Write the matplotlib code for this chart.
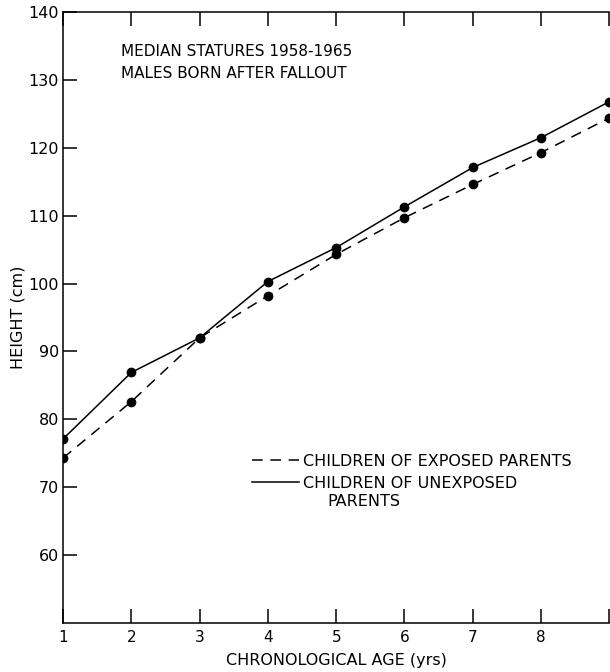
import matplotlib
matplotlib.use("Agg")
import matplotlib.pyplot as plt
from matplotlib.lines import Line2D

ages = [1, 2, 3, 4, 5, 6, 7, 8, 9]
exposed = [74.3, 82.6, 92.0, 98.2, 104.3, 109.7, 114.6, 119.3, 124.4]
unexposed = [77.1, 86.9, 92.0, 100.3, 105.3, 111.3, 117.1, 121.5, 126.8]
x_ticks = [1, 2, 3, 4, 5, 6, 7, 8, 9]
x_ticklabels = ["1", "2", "3", "4", "5", "6", "7", "8", ""]
y_ticks = [60, 70, 80, 90, 100, 110, 120, 130, 140]
y_ticklabels = ["60", "70", "80", "90", "100", "110", "120", "130", "140"]

plt.rcParams['font.family'] = ['DejaVu Sans']

fig = plt.figure(figsize=(6.10, 6.72), dpi=100)
ax = fig.add_axes([63/610, 1 - 623/672, (610 - 63)/610 - 0.001, (623 - 12)/672])

dash = (0, (7, 5))
ax.plot(ages, exposed, color='black', lw=1.1, ls=dash, marker='o', ms=6)
ax.plot(ages, unexposed, color='black', lw=1.1, ls='-', marker='o', ms=6)

ax.set_xlim(1, 9)
ax.set_ylim(50, 140)
ax.set_xticks(x_ticks)
ax.set_xticklabels(x_ticklabels, fontsize=11)
ax.set_yticks(y_ticks)
ax.set_yticklabels(y_ticklabels, fontsize=11.5)
ax.tick_params(axis='both', direction='in', length=10, width=1.1, pad=3)
ax.tick_params(axis='x', top=True, pad=5)
ax.spines['right'].set_visible(False)
for s in ['left', 'bottom', 'top']:
    ax.spines[s].set_linewidth(1.1)

ax.set_xlabel("CHRONOLOGICAL AGE (yrs)", fontsize=11.5, labelpad=6)
ax.set_ylabel("HEIGHT (cm)", fontsize=11.5, labelpad=2)

ax.text(1.85, 134.2, "MEDIAN STATURES 1958-1965", fontsize=11, va='center', ha='left')
ax.text(1.85, 130.9, "MALES BORN AFTER FALLOUT", fontsize=11, va='center', ha='left')

handles = [Line2D([], [], color='black', lw=1.1, ls=dash),
           Line2D([], [], color='black', lw=1.1, ls='-')]
labels = ["CHILDREN OF EXPOSED PARENTS", "CHILDREN OF UNEXPOSED"]
leg = ax.legend(handles, labels, loc='upper left', bbox_to_anchor=(0.345, 0.277),
                frameon=False, fontsize=11.5, handlelength=3.0, handletextpad=0.2,
                labelspacing=0.45, borderpad=0, borderaxespad=0)
ax.text((328 - 63) / 547, (623 - 502) / 611, "PARENTS", transform=ax.transAxes,
        fontsize=11.5, va='center', ha='left')

fig.savefig("out.png", dpi=100)
